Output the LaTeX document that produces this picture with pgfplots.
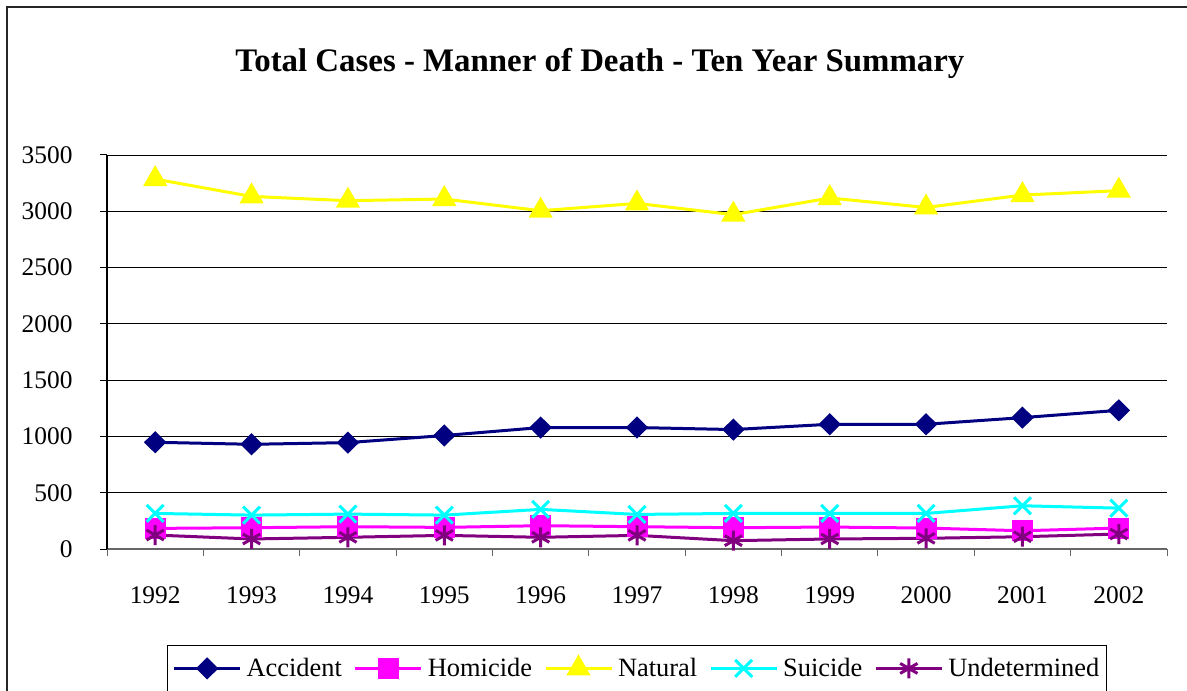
\documentclass[border=0pt]{standalone}
\usepackage{pgfplots}
\pgfplotsset{compat=1.18}
\usepackage{fontspec}
\setmainfont{Liberation Serif}
\definecolor{cAcc}{RGB}{0,0,128}
\definecolor{cHom}{RGB}{255,0,255}
\definecolor{cNat}{RGB}{255,255,0}
\definecolor{cSui}{RGB}{0,255,255}
\definecolor{cUnd}{RGB}{128,0,128}
\begin{document}
\begin{tikzpicture}
\useasboundingbox (0,0) rectangle (1187bp,691bp);
\clip (0,0) rectangle (1187bp,691bp);
\draw[line width=2bp, black!85] (7bp,-10bp) -- (7bp,683.5bp) -- (1200bp,683.5bp);
\begin{axis}[
  at={(107bp,142bp)}, anchor=south west, scale only axis,
  width=1060bp, height=394bp,
  xmin=-0.5, xmax=10.5, ymin=0, ymax=3500,
  xtick={0,...,10},
  xticklabels={1992,1993,1994,1995,1996,1997,1998,1999,2000,2001,2002},
  major x tick style={draw=none},
  minor xtick={-0.5,0.5,1.5,2.5,3.5,4.5,5.5,6.5,7.5,8.5,9.5,10.5},
  ytick={0,500,1000,1500,2000,2500,3000,3500},
  ymajorgrids, major grid style={black, line width=0.9bp},
  axis x line*=bottom, axis y line*=left,
  x axis line style={line width=1.2bp, black!60},
  y axis line style={line width=1.2bp, black},
  tick style={black, line width=1bp},
  minor x tick style={black!60},
  major tick length=7bp, minor tick length=7bp, tick align=outside,
  tick label style={font=\fontsize{25.5}{30}\selectfont},
  /pgf/number format/assume math mode=true,
  yticklabel style={/pgf/number format/1000 sep={}, xshift=-24bp},
  xticklabel style={yshift=-27bp},
  title={\textbf{Total Cases - Manner of Death - Ten Year Summary}},
  title style={font=\fontsize{33}{40}\selectfont, at={(0.465,1)}, anchor=center, yshift=86bp},
  legend columns=5,
  legend style={at={(0.5,-0.2437)}, anchor=north, draw=black, line width=1bp,
    font=\fontsize{26.5}{32}\selectfont, inner xsep=5bp, inner ysep=11bp,
    /tikz/every odd column/.append style={column sep=3bp},
    /tikz/every even column/.append style={column sep=10bp}},
  legend image code/.code={\draw[#1, mark repeat=2, mark phase=2] plot coordinates {(0bp,0bp) (33bp,0bp) (66bp,0bp)};},
  clip=false,
]
\addplot[cAcc, line width=3bp, mark=diamond*, mark size=9bp, mark options={solid, fill=cAcc, draw=cAcc, xscale=1.35}]
coordinates {(0,948)(1,930)(2,945)(3,1008)(4,1079)(5,1079)(6,1061)(7,1108)(8,1108)(9,1167)(10,1232)};
\addlegendentry{Accident}
\addplot[cHom, line width=3bp, mark=square*, mark size=9bp, mark options={solid, fill=cHom, draw=cHom}]
coordinates {(0,183)(1,189)(2,198)(3,192)(4,207)(5,198)(6,189)(7,195)(8,186)(9,162)(10,186)};
\addlegendentry{Homicide}
\addplot[cNat, line width=3bp, mark=triangle*, mark size=11bp, mark options={solid, fill=cNat, draw=cNat}]
coordinates {(0,3286)(1,3132)(2,3094)(3,3109)(4,3005)(5,3070)(6,2970)(7,3118)(8,3034)(9,3144)(10,3183)};
\addlegendentry{Natural}
\addplot[cSui, line width=3bp, mark=x, mark size=12bp, mark options={solid, draw=cSui}]
coordinates {(0,316)(1,301)(2,310)(3,301)(4,352)(5,307)(6,316)(7,316)(8,316)(9,384)(10,363)};
\addlegendentry{Suicide}
\addplot[cUnd, line width=3bp, mark=asterisk, mark size=10bp, mark options={solid, draw=cUnd}]
coordinates {(0,124)(1,89)(2,104)(3,121)(4,104)(5,121)(6,74)(7,89)(8,95)(9,109)(10,133)};
\addlegendentry{Undetermined}
\end{axis}
\end{tikzpicture}
\end{document}
